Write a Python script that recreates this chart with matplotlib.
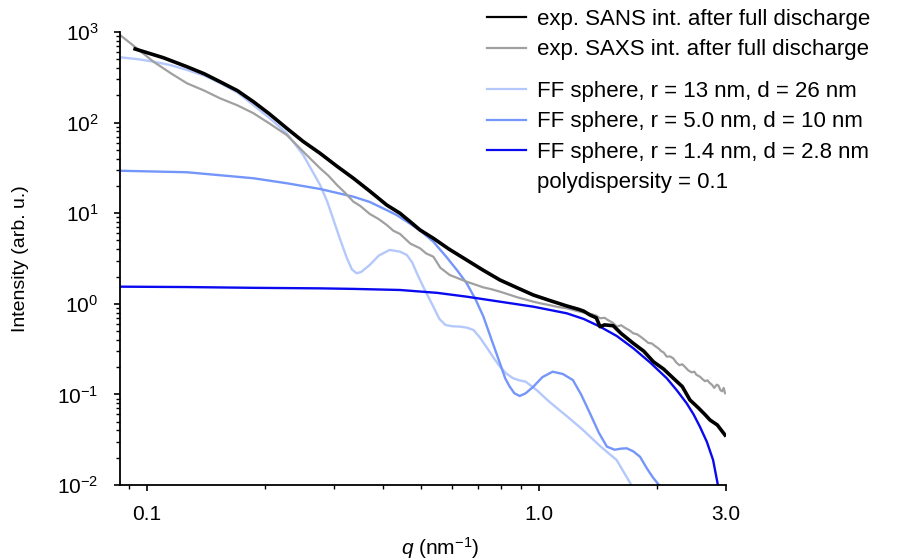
import numpy as np
import matplotlib.pyplot as plt
from matplotlib.lines import Line2D
from matplotlib.ticker import FixedLocator, FuncFormatter, NullFormatter

plt.rcParams['font.family'] = ['Liberation Sans', 'DejaVu Sans']
plt.rcParams['mathtext.fontset'] = 'custom'
plt.rcParams['mathtext.rm'] = 'Liberation Sans'
plt.rcParams['mathtext.it'] = 'Liberation Sans:italic'
plt.rcParams['mathtext.default'] = 'regular'

# exp. SANS intensity after full discharge
q_sans = [0.0932, 0.11, 0.1263, 0.14, 0.1536, 0.17, 0.1867, 0.205, 0.2272, 0.25,
          0.2763, 0.305, 0.336, 0.37, 0.4088, 0.4418, 0.47, 0.497, 0.5375, 0.59,
          0.6539, 0.72, 0.795, 0.88, 0.967, 1.07, 1.177, 1.26, 1.30, 1.349,
          1.40, 1.431, 1.47, 1.546, 1.62, 1.74, 1.85, 1.957, 2.08, 2.20,
          2.32, 2.427, 2.55, 2.65, 2.731, 2.85, 2.982]
i_sans = [649, 520, 414, 345, 282, 225, 170, 125, 86.5, 62,
          45.8, 33, 24.3, 17.5, 12.3, 9.98, 8.0, 6.53, 5.28, 4.0,
          3.04, 2.35, 1.83, 1.50, 1.25, 1.08, 0.946, 0.87, 0.83, 0.752,
          0.70, 0.559, 0.585, 0.573, 0.47, 0.366, 0.30, 0.2296, 0.19, 0.151,
          0.122, 0.0867, 0.071, 0.060, 0.0521, 0.046, 0.0356]

# exp. SAXS intensity after full discharge
q_saxs = [0.0853, 0.095, 0.1038, 0.115, 0.1263, 0.14, 0.1536, 0.17, 0.1867, 0.205,
          0.2272, 0.25, 0.2763, 0.29, 0.305, 0.32, 0.336, 0.35, 0.37, 0.39,
          0.4088, 0.425, 0.4418, 0.47, 0.497, 0.515, 0.5375, 0.56, 0.5916, 0.62,
          0.654, 0.69, 0.72, 0.76, 0.795, 0.84, 0.88, 0.92, 0.967, 1.01,
          1.06, 1.12, 1.177, 1.24, 1.30, 1.36, 1.40, 1.431, 1.47, 1.50,
          1.54, 1.58, 1.62, 1.66, 1.70, 1.740, 1.78, 1.82, 1.86, 1.90,
          1.94, 1.98, 2.02, 2.05, 2.08, 2.117, 2.16, 2.20, 2.24, 2.28,
          2.32, 2.36, 2.40, 2.45, 2.49, 2.52, 2.55, 2.573, 2.61, 2.65,
          2.69, 2.72, 2.76, 2.80, 2.84, 2.87, 2.90, 2.93, 2.96, 2.982]
i_saxs = [926, 640, 470, 350, 272, 225, 185, 155, 127, 98,
          72.9, 48, 31.3, 26, 20.5, 16.8, 13.4, 12.0, 9.8, 8.6,
          7.41, 6.4, 5.9, 4.6, 4.10, 3.6, 3.31, 2.5, 2.08, 1.92,
          1.75, 1.62, 1.52, 1.44, 1.36, 1.26, 1.18, 1.12, 1.055, 1.01,
          0.97, 0.92, 0.892, 0.84, 0.80, 0.77, 0.74, 0.692, 0.70, 0.66,
          0.62, 0.56, 0.58, 0.54, 0.51, 0.472, 0.46, 0.43, 0.40, 0.37,
          0.365, 0.34, 0.32, 0.30, 0.29, 0.261, 0.262, 0.25, 0.225, 0.21,
          0.215, 0.20, 0.185, 0.175, 0.178, 0.165, 0.16, 0.157, 0.148, 0.14,
          0.143, 0.135, 0.128, 0.118, 0.128, 0.125, 0.112, 0.108, 0.118, 0.103]

# FF sphere, r = 13 nm
q_ff13 = [0.0853, 0.095, 0.1038, 0.115, 0.1263, 0.14, 0.1536, 0.17, 0.1867, 0.2059,
          0.2272, 0.2503, 0.2763, 0.288, 0.298, 0.31, 0.3236, 0.333, 0.3425, 0.352,
          0.3698, 0.39, 0.4157, 0.4418, 0.4599, 0.475, 0.488, 0.51, 0.5375, 0.557,
          0.5774, 0.60, 0.6305, 0.655, 0.680, 0.705, 0.7333, 0.765, 0.795, 0.825,
          0.858, 0.89, 0.925, 0.99, 1.062, 1.18, 1.295, 1.43, 1.577, 1.72]
i_ff13 = [526, 500, 470, 430, 381, 330, 272, 215, 156, 111,
          76.2, 43.8, 20.5, 13.5, 8.79, 5.3, 3.18, 2.4, 2.17, 2.25,
          2.68, 3.4, 3.93, 3.76, 3.46, 2.85, 2.17, 1.45, 0.929, 0.68,
          0.583, 0.565, 0.559, 0.545, 0.514, 0.43, 0.336, 0.255, 0.202, 0.17,
          0.151, 0.143, 0.138, 0.11, 0.083, 0.057, 0.0405, 0.027, 0.0189, 0.0100]

# FF sphere, r = 5.0 nm
q_ff5 = [0.0853, 0.1263, 0.1867, 0.2272, 0.2763, 0.336, 0.37, 0.4088, 0.433, 0.47,
         0.5, 0.5375, 0.58, 0.62, 0.654, 0.69, 0.7214, 0.76, 0.795, 0.82,
         0.842, 0.865, 0.8925, 0.925, 0.967, 1.02, 1.083, 1.15, 1.22, 1.28,
         1.349, 1.42, 1.49, 1.56, 1.62, 1.675, 1.74, 1.81, 1.88, 1.95, 2.03]
i_ff5 = [29.4, 28.3, 24.3, 21.4, 18.5, 15.2, 13.3, 10.8, 9.55, 7.6,
         6.3, 4.84, 3.3, 2.3, 1.68, 1.1, 0.721, 0.38, 0.220, 0.15,
         0.1216, 0.103, 0.096, 0.103, 0.1216, 0.155, 0.178, 0.168, 0.144, 0.10,
         0.0618, 0.038, 0.0265, 0.0245, 0.0252, 0.0254, 0.0235, 0.0205, 0.0155, 0.0122, 0.0098]

# FF sphere, r = 1.4 nm
q_ff14 = [0.0853, 0.1263, 0.1867, 0.2763, 0.336, 0.4418, 0.55, 0.654, 0.795, 0.967,
          1.177, 1.30, 1.431, 1.58, 1.740, 1.92, 2.117, 2.25, 2.38, 2.48,
          2.573, 2.68, 2.78, 2.86]
i_ff14 = [1.545, 1.53, 1.50, 1.48, 1.46, 1.42, 1.32, 1.198, 1.055, 0.929,
          0.785, 0.68, 0.559, 0.44, 0.323, 0.225, 0.151, 0.11, 0.0798, 0.060,
          0.044, 0.030, 0.0189, 0.0100]

labels = ['exp. SANS int. after full discharge',
          'exp. SAXS int. after full discharge',
          'FF sphere, r = 13 nm, d = 26 nm',
          'FF sphere, r = 5.0 nm, d = 10 nm',
          'FF sphere, r = 1.4 nm, d = 2.8 nm',
          'polydispersity = 0.1']
c_sans, c_saxs = '#000000', '#a0a0a0'
c_ff13, c_ff5, c_ff14 = '#b4c8fc', '#7496fa', '#0a0af0'

fig = plt.figure(figsize=(8.97, 5.59), dpi=100)
ax = fig.add_axes([0.1338, 0.1324, 0.6756, 0.8104])

ax.plot(q_ff13, i_ff13, color=c_ff13, lw=1.7)
ax.plot(q_ff5, i_ff5, color=c_ff5, lw=1.7)
ax.plot(q_ff14, i_ff14, color=c_ff14, lw=1.7)
ax.plot(q_saxs, i_saxs, color=c_saxs, lw=1.6)
ax.plot(q_sans, i_sans, color=c_sans, lw=2.6)

ax.set_xscale('log')
ax.set_yscale('log')
ax.set_xlim(0.0853, 3.0)
ax.set_ylim(1e-2, 1e3)

for s in ['top', 'right']:
    ax.spines[s].set_visible(False)
for s in ['left', 'bottom']:
    ax.spines[s].set_linewidth(1.3)

ax.xaxis.set_major_locator(FixedLocator([0.1, 1.0, 3.0]))
ax.xaxis.set_major_formatter(FuncFormatter(lambda v, p: f'{v:.1f}'))
ax.xaxis.set_minor_locator(FixedLocator([0.09, 0.2, 0.3, 0.4, 0.5, 0.6, 0.7, 0.8, 0.9, 2.0]))
ax.xaxis.set_minor_formatter(NullFormatter())
ax.yaxis.set_major_formatter(FuncFormatter(lambda v, p: '10$^{%d}$' % round(np.log10(v))))
ax.tick_params(which='major', direction='out', length=4.5, width=1.2, labelsize=15)
ax.tick_params(axis='y', which='major', pad=11)
ax.tick_params(axis='x', which='major', pad=10)
ax.tick_params(which='minor', direction='out', length=2.8, width=1.0)

ax.set_ylabel('Intensity (arb. u.)', fontsize=14, labelpad=20)
ax.set_xlabel(r'$\mathit{q}$ (nm$^{-1}$)', fontsize=15, labelpad=8)
ax.xaxis.set_label_coords(0.528, -0.11)

h1 = [Line2D([], [], color=c_sans, lw=1.6), Line2D([], [], color=c_saxs, lw=1.6)]
h2 = [Line2D([], [], color=c_ff13, lw=1.6), Line2D([], [], color=c_ff5, lw=1.6),
      Line2D([], [], color=c_ff14, lw=1.6), Line2D([], [], color='none')]
kw = dict(loc='upper left', frameon=False, fontsize=16, handlelength=1.75,
          handletextpad=0.5, borderpad=0, borderaxespad=0, labelspacing=0.42)
fig.legend(h1, labels[:2], bbox_to_anchor=(487 / 897, 1 - 9 / 559), **kw)
fig.legend(h2, labels[2:], bbox_to_anchor=(487 / 897, 1 - 81 / 559), **kw)

fig.savefig('out.png', dpi=100)
